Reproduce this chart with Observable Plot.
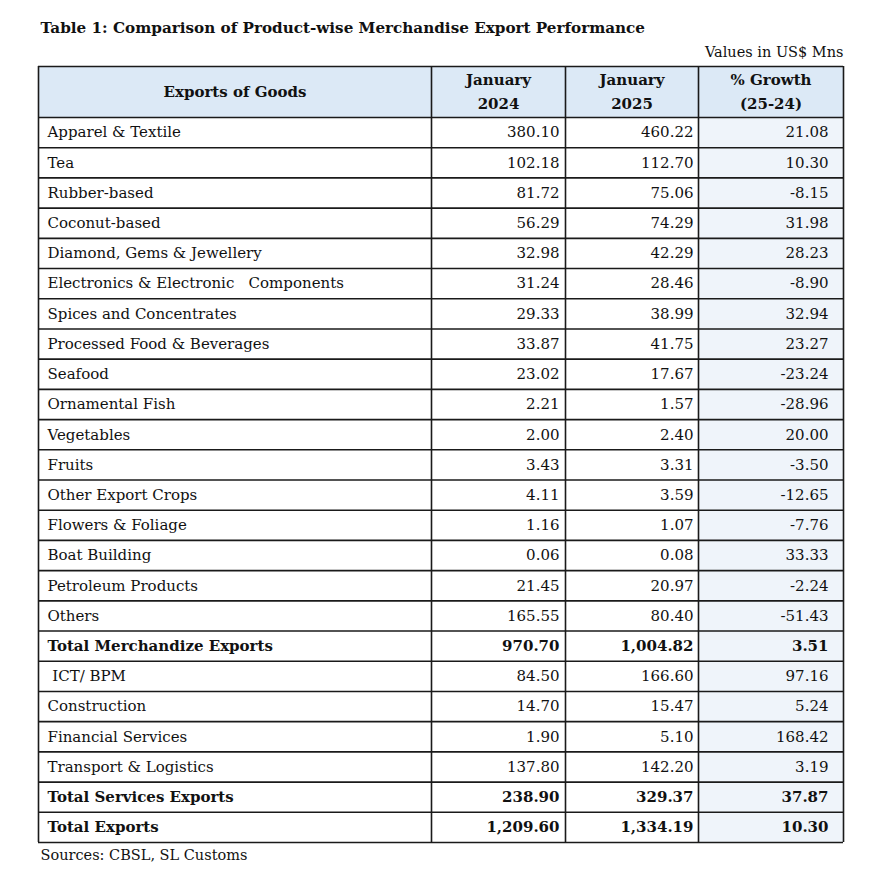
<!DOCTYPE html>
<html>
<head>
<meta charset="utf-8">
<script src="https://cdn.jsdelivr.net/npm/d3@7"></script>
<script src="https://cdn.jsdelivr.net/npm/@observablehq/plot@0.6"></script>
<style>
  html, body { margin: 0; padding: 0; background: #fff; }
</style>
</head>
<body>
<div id="chart"></div>
<script>
// ---- Data ----
const title = "Table 1: Comparison of Product-wise Merchandise Export Performance";
const unitNote = "Values in US$ Mns";
const sourceNote = "Sources: CBSL, SL Customs";
const headers = ["Exports of Goods", "January\n2024", "January\n2025", "% Growth\n(25-24)"];
const items = [
  "Apparel & Textile", "Tea", "Rubber-based", "Coconut-based", "Diamond, Gems & Jewellery",
  "Electronics & Electronic\u00a0\u00a0 Components", "Spices and Concentrates", "Processed Food & Beverages",
  "Seafood", "Ornamental Fish", "Vegetables", "Fruits", "Other Export Crops", "Flowers & Foliage",
  "Boat Building", "Petroleum Products", "Others", "Total Merchandize Exports",
  "\u00a0ICT/ BPM", "Construction", "Financial Services", "Transport & Logistics",
  "Total Services Exports", "Total Exports"
];
const jan2024 = [380.10, 102.18, 81.72, 56.29, 32.98, 31.24, 29.33, 33.87, 23.02, 2.21, 2.00, 3.43, 4.11, 1.16, 0.06, 21.45, 165.55, 970.70, 84.50, 14.70, 1.90, 137.80, 238.90, 1209.60];
const jan2025 = [460.22, 112.70, 75.06, 74.29, 42.29, 28.46, 38.99, 41.75, 17.67, 1.57, 2.40, 3.31, 3.59, 1.07, 0.08, 20.97, 80.40, 1004.82, 166.60, 15.47, 5.10, 142.20, 329.37, 1334.19];
const growth = [21.08, 10.30, -8.15, 31.98, 28.23, -8.90, 32.94, 23.27, -23.24, -28.96, 20.00, -3.50, -12.65, -7.76, 33.33, -2.24, -51.43, 3.51, 97.16, 5.24, 168.42, 3.19, 37.87, 10.30];
const boldRows = ["Total Merchandize Exports", "Total Services Exports", "Total Exports"];

// ---- Layout ----
const W = 885, H = 880;
const colEdges = [38, 431, 565, 698, 843];
const headerTop = 66, headerBottom = 117, tableBottom = 842;
const rowH = (tableBottom - headerBottom) / items.length;
const font = "'DejaVu Serif', 'Liberation Serif', serif";
const fs = 15;
const ink = "#111";
const fmt = d3.formatLocale({decimal: ".", thousands: ",", grouping: [3], currency: ["$", ""], minus: "-"}).format(",.2f");

const rows = items.map((name, i) => ({
  name, v24: jan2024[i], v25: jan2025[i], g: growth[i],
  bold: boldRows.includes(name),
  y1: headerBottom + i * rowH, y2: headerBottom + (i + 1) * rowH, yc: headerBottom + (i + 0.5) * rowH,
  xName: colEdges[0] + 9, x24: colEdges[2] - 6, x25: colEdges[3] - 5, xG: colEdges[4] - 15,
  gx1: colEdges[3], gx2: colEdges[4]
}));
const plainRows = rows.filter(r => !r.bold);
const totalRows = rows.filter(r => r.bold);
const headerCells = headers.map((h, j) => ({h, x1: colEdges[j], x2: colEdges[j + 1], xc: (colEdges[j] + colEdges[j + 1]) / 2, yc: (headerTop + headerBottom) / 2 - 2.5}));
const hLines = [headerTop, headerBottom, ...rows.map(r => r.y2)];
const notes = [
  {t: title, x: 40, y: 28},
  {t: unitNote, x: colEdges[4], y: 52},
  {t: sourceNote, x: 40, y: 855}
];

function rowText(data, weight) {
  const common = {y: "yc", fontSize: fs, fill: ink, fontWeight: weight};
  return [
    Plot.text(data, {...common, x: "xName", text: "name", textAnchor: "start"}),
    Plot.text(data, {...common, x: "x24", text: d => fmt(d.v24), textAnchor: "end"}),
    Plot.text(data, {...common, x: "x25", text: d => fmt(d.v25), textAnchor: "end"}),
    Plot.text(data, {...common, x: "xG", text: d => fmt(d.g), textAnchor: "end"})
  ];
}

const plot = Plot.plot({
  width: W, height: H,
  margin: 0,
  x: {type: "identity", axis: null},
  y: {type: "identity", axis: null},
  style: {fontFamily: font, background: "#fff"},
  marks: [
    Plot.rect(headerCells, {x1: "x1", x2: "x2", y1: () => headerTop, y2: () => headerBottom, fill: "#dce9f6"}),
    Plot.rect(rows, {x1: "gx1", x2: "gx2", y1: "y1", y2: "y2", fill: "#eff4fa"}),
    Plot.ruleY(hLines, {y: d => d, x1: () => colEdges[0], x2: () => colEdges[4], stroke: "#1a1a1a", strokeWidth: 1.6}),
    Plot.ruleX(colEdges, {x: d => d, y1: () => headerTop, y2: () => tableBottom, stroke: "#1a1a1a", strokeWidth: 1.6}),
    Plot.text(headerCells, {x: "xc", y: "yc", text: "h", fontWeight: "bold", fontSize: fs, lineHeight: 1.55, fill: ink, textAnchor: "middle"}),
    ...rowText(plainRows, "normal"),
    ...rowText(totalRows, "bold"),
    Plot.text(notes.slice(0, 1), {x: "x", y: "y", text: "t", textAnchor: "start", fontWeight: "bold", fontSize: 15.2, fill: ink}),
    Plot.text(notes.slice(1, 2), {x: "x", y: "y", text: "t", textAnchor: "end", fontSize: 14.5, fill: ink}),
    Plot.text(notes.slice(2), {x: "x", y: "y", text: "t", textAnchor: "start", fontSize: 14.5, fill: ink})
  ]
});
document.getElementById("chart").appendChild(plot);
</script>
</body>
</html>
